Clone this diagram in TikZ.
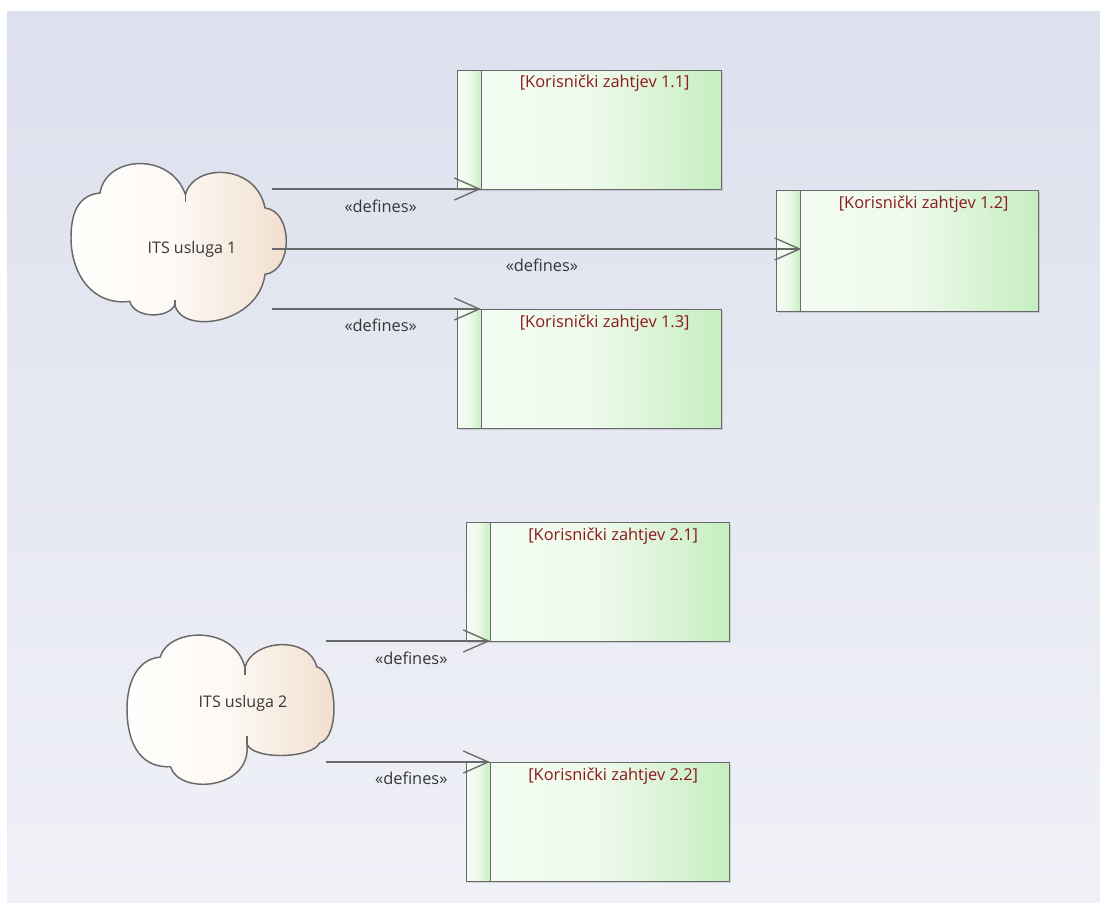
\documentclass[tikz,border=0pt]{standalone}
\usepackage{fontspec}
\setmainfont{Open Sans}
\usetikzlibrary{arrows.meta,shadows}

\definecolor{bgtop}{RGB}{221,224,237}
\definecolor{bgbot}{RGB}{240,241,247}
\definecolor{edge}{RGB}{105,105,105}
\definecolor{reqtext}{RGB}{139,26,26}
\definecolor{lbl}{RGB}{55,55,55}
\definecolor{reqA}{RGB}{243,252,242}
\definecolor{reqB}{RGB}{238,250,236}
\definecolor{reqC}{RGB}{198,238,192}
\definecolor{cloudA}{RGB}{255,254,252}
\definecolor{cloudB}{RGB}{253,249,245}
\definecolor{cloudC}{RGB}{241,222,205}
\pgfdeclarehorizontalshading{reqshade}{100bp}{color(0bp)=(reqA); color(25bp)=(reqA); color(48bp)=(reqB); color(75bp)=(reqC); color(100bp)=(reqC)}
\pgfdeclarehorizontalshading{cloudshade}{100bp}{color(0bp)=(cloudA); color(25bp)=(cloudA); color(48bp)=(cloudB); color(75bp)=(cloudC); color(100bp)=(cloudC)}

\tikzset{
  boxbase/.style={draw=edge, line width=1pt, shading=reqshade, inner sep=0pt, anchor=north west,
    drop shadow={shadow xshift=0.8pt, shadow yshift=-0.8pt, fill=black, opacity=0.12}},
  stripbox/.style={boxbase, minimum width=18pt},
  reqbox/.style={boxbase, minimum width=180pt},
  reqlabel/.style={text=reqtext, font=\fontsize{12.3}{14}\selectfont, inner sep=0pt},
  cloudlabel/.style={text=lbl, font=\fontsize{12}{14}\selectfont, inner sep=0pt},
  deflabel/.style={text=lbl, font=\fontsize{12.3}{14}\selectfont, inner sep=0pt},
  cloudline/.style={draw=edge, line width=1.1pt, shading=cloudshade, line join=round},
  conn/.style={draw=edge, line width=1pt, -{Straight Barb[length=18.75pt,width=16.5pt,line width=1pt]}}
}

\begin{document}
\begin{tikzpicture}[x=0.75pt,y=-0.75pt]
\useasboundingbox (0,0) rectangle (1100,903);
\fill[white] (0,0) rectangle (1100,903);
\shade[top color=bgtop,bottom color=bgbot] (7,11) rectangle (1100,903);

% Cloud 1
\begin{scope}[shift={(71,163)}, xscale=218, yscale=159]
  \path[cloudline] (0.133,0.189) .. controls (0.16,-0.05) and (0.46,-0.07) .. (0.525,0.20)
    .. controls (0.56,0.0) and (0.85,0.0) .. (0.89,0.283)
    .. controls (1.02,0.30) and (1.02,0.68) .. (0.89,0.70)
    .. controls (0.86,1.02) and (0.50,1.08) .. (0.477,0.89)
    .. controls (0.45,0.98) and (0.29,0.98) .. (0.27,0.87)
    .. controls (0.10,0.90) and (0.0,0.70) .. (0.0,0.47)
    .. controls (0.0,0.28) and (0.05,0.20) .. cycle;
  \draw[edge, line width=1.1pt] (0.525,0.20) -- (0.525,0.245);
  \draw[edge, line width=1.1pt] (0.477,0.89) -- (0.477,0.86);
\end{scope}
\node[cloudlabel] (c1) at (192,249) {ITS usluga 1};

% Cloud 2
\begin{scope}[shift={(127,635)}, xscale=207, yscale=148]
  \path[cloudline] (0.16,0.15) .. controls (0.20,-0.05) and (0.52,-0.07) .. (0.57,0.22)
    .. controls (0.60,0.03) and (0.88,0.0) .. (0.916,0.214)
    .. controls (1.02,0.25) and (1.03,0.70) .. (0.93,0.73)
    .. controls (0.90,0.83) and (0.62,0.85) .. (0.58,0.74)
    .. controls (0.60,1.05) and (0.25,1.08) .. (0.21,0.89)
    .. controls (0.05,0.90) and (0.0,0.70) .. (0.0,0.5)
    .. controls (0.0,0.30) and (0.06,0.16) .. cycle;
  \draw[edge, line width=1.1pt] (0.57,0.22) -- (0.57,0.27);
  \draw[edge, line width=1.1pt] (0.58,0.74) -- (0.58,0.68);
\end{scope}
\node[cloudlabel] (c2) at (243,703) {ITS usluga 2};

% Requirement boxes
\node[stripbox, minimum height=89.25pt] (s11) at (457,70) {};
\node[reqbox, minimum height=89.25pt] (r11) at (481,70) {};
\node[reqlabel] (t11) at ([xshift=2.25pt,yshift=-9.75pt]r11.north) {[Korisnički zahtjev 1.1]};

\node[stripbox, minimum height=90.75pt] (s12) at (776,190) {};
\node[reqbox, minimum width=178.5pt, minimum height=90.75pt] (r12) at (800,190) {};
\node[reqlabel] (t12) at ([xshift=3pt,yshift=-10.5pt]r12.north) {[Korisnički zahtjev 1.2]};

\node[stripbox, minimum height=89.25pt] (s13) at (457,309) {};
\node[reqbox, minimum height=89.25pt] (r13) at (481,309) {};
\node[reqlabel] (t13) at ([xshift=2.25pt,yshift=-10.5pt]r13.north) {[Korisnički zahtjev 1.3]};

\node[stripbox, minimum height=89.25pt] (s21) at (466,522) {};
\node[reqbox, minimum width=179.25pt, minimum height=89.25pt] (r21) at (490,522) {};
\node[reqlabel] (t21) at ([xshift=2.25pt,yshift=-10.5pt]r21.north) {[Korisnički zahtjev 2.1]};

\node[stripbox, minimum height=89.25pt] (s22) at (466,762) {};
\node[reqbox, minimum width=179.25pt, minimum height=89.25pt] (r22) at (490,762) {};
\node[reqlabel] (t22) at ([xshift=2.25pt,yshift=-10.5pt]r22.north) {[Korisnički zahtjev 2.2]};

% Connector start points
\coordinate (c1a) at (272,189);
\coordinate (c1b) at (272,249);
\coordinate (c1c) at (272,309);
\coordinate (c2a) at (326,641);
\coordinate (c2b) at (326,762);

% Connectors
\draw[conn] (c1a) -- node[deflabel, pos=0.52, yshift=-12.75pt] {«defines»} (c1a -| r11.west);
\draw[conn] (c1b) -- node[deflabel, pos=0.51, yshift=-12pt] {«defines»} (c1b -| s12.east);
\draw[conn] (c1c) -- node[deflabel, pos=0.52, yshift=-12pt] {«defines»} (c1c -| r13.west);
\draw[conn] (c2a) -- node[deflabel, pos=0.52, yshift=-12.75pt] {«defines»} (c2a -| r21.west);
\draw[conn] (c2b) -- node[deflabel, pos=0.52, yshift=-12pt] {«defines»} (c2b -| r22.west);
\end{tikzpicture}
\end{document}
